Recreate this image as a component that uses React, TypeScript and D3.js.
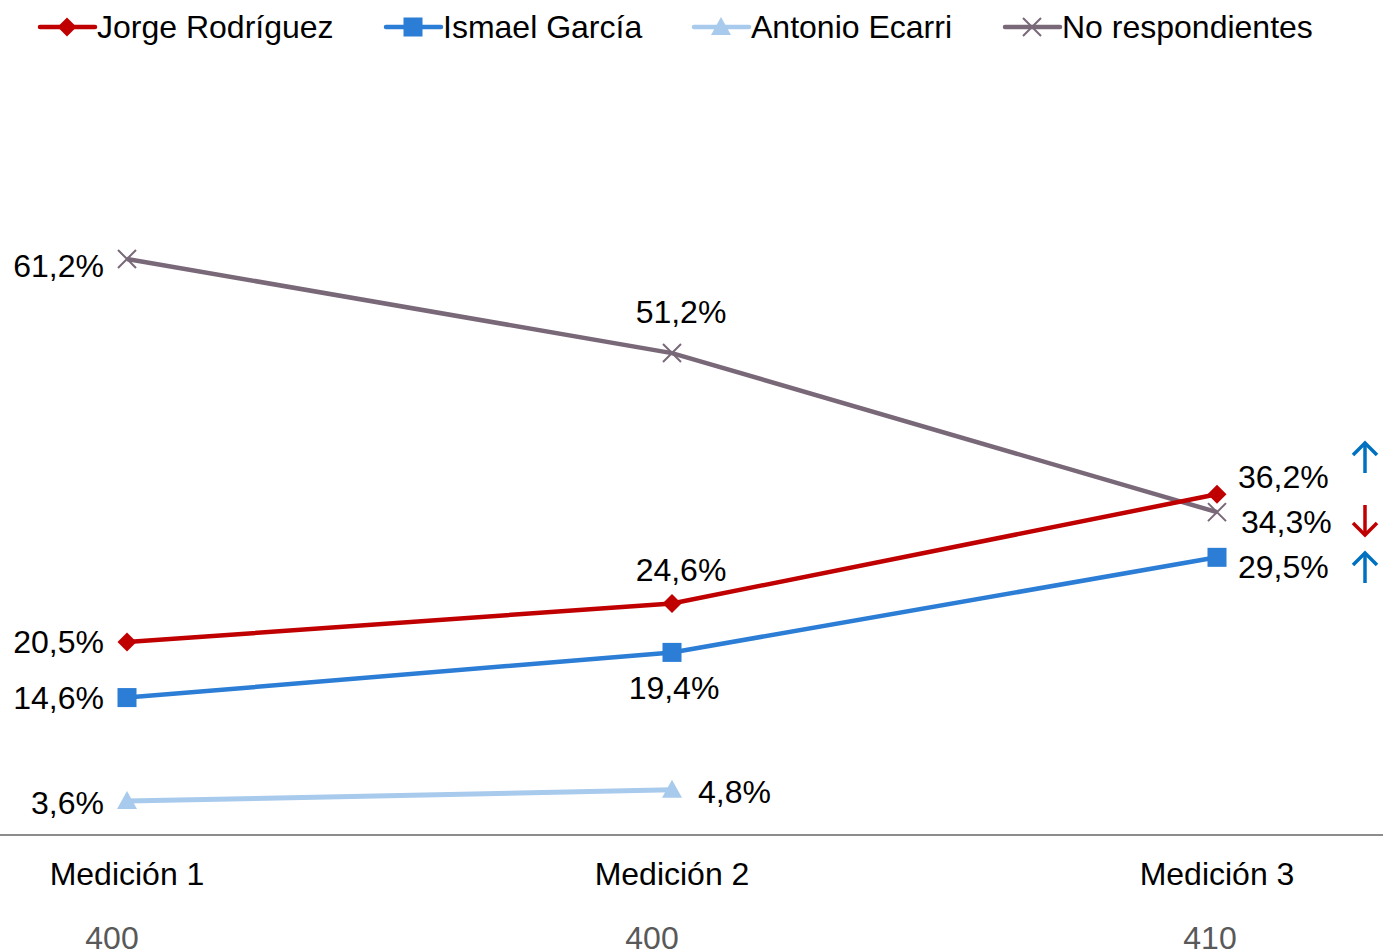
import React from "react";
import * as d3 from "d3";

const categories = ["Medición 1", "Medición 2", "Medición 3"];
const sampleSizes = ["400", "400", "410"];
const seriesNames = ["Jorge Rodríguez", "Ismael García", "Antonio Ecarri", "No respondientes"];
const jorge = [20.5, 24.6, 36.2];
const ismael = [14.6, 19.4, 29.5];
const antonio: (number | null)[] = [3.6, 4.8, null];
const noResp = [61.2, 51.2, 34.3];
const jorgeLabelPos = ["left", "above", "right"];
const ismaelLabelPos = ["left", "below", "right"];
const antonioLabelPos = ["left", "right", "right"];
const noRespLabelPos = ["left", "above", "right"];
const trendArrows = ["up", "down", "up"]; // Jorge, No respondientes, Ismael (top to bottom)

const W = 1383;
const H = 950;
const FONT = "'Liberation Sans', Arial, sans-serif";
const FS = 32;

const colors = ["#C00000", "#2B7DD5", "#A8CAEC", "#786878"];
const markers = ["diamond", "square", "triangle", "x"];

function Marker({ type, x, y, color }: { type: string; x: number; y: number; color: string }) {
  if (type === "diamond") {
    const s = 9.5;
    return <path d={`M${x},${y - s}L${x + s},${y}L${x},${y + s}L${x - s},${y}Z`} fill={color} />;
  }
  if (type === "square") {
    const s = 9.5;
    return <rect x={x - s} y={y - s} width={2 * s} height={2 * s} fill={color} />;
  }
  if (type === "triangle") {
    const s = 10;
    return <path d={`M${x},${y - s}L${x + s},${y + s * 0.8}L${x - s},${y + s * 0.8}Z`} fill={color} />;
  }
  const s = 9;
  return (
    <path
      d={`M${x - s},${y - s}L${x + s},${y + s}M${x + s},${y - s}L${x - s},${y + s}`}
      stroke={color}
      strokeWidth={2}
      fill="none"
    />
  );
}

export default function App() {
  const x = d3.scalePoint<string>().domain(categories).range([127, 1217]);
  const y = d3.scaleLinear().domain([0, 80]).range([835, 82]);
  const series = [
    { name: seriesNames[0], values: jorge as (number | null)[], pos: jorgeLabelPos },
    { name: seriesNames[1], values: ismael as (number | null)[], pos: ismaelLabelPos },
    { name: seriesNames[2], values: antonio, pos: antonioLabelPos },
    { name: seriesNames[3], values: noResp as (number | null)[], pos: noRespLabelPos },
  ];
  const line = d3
    .line<number | null>()
    .defined((d) => d !== null)
    .x((_, i) => x(categories[i])!)
    .y((d) => y(d as number));
  const fmt = (v: number) => v.toFixed(1).replace(".", ",") + "%";

  const legendX = [40, 386, 694, 1005];
  const drawOrder = [3, 2, 1, 0];
  const sampleDx = [-15, -20, -7];

  return (
    <svg
      width={W}
      height={H}
      style={{ position: "absolute", left: 0, top: 0, background: "#fff" }}
      fontFamily={FONT}
    >
      {/* legend */}
      {seriesNames.map((n, i) => (
        <g key={n}>
          <line x1={legendX[i]} x2={legendX[i] + 55} y1={27} y2={27} stroke={colors[i]} strokeWidth={4.5} strokeLinecap="round" />
          <Marker type={markers[i]} x={legendX[i] + 27} y={27} color={colors[i]} />
          <text x={legendX[i] + 57} y={38} fontSize={FS} fill="#000">
            {n}
          </text>
        </g>
      ))}
      {/* axis */}
      <line x1={0} x2={W} y1={y(0)} y2={y(0)} stroke="#8C8C8C" strokeWidth={2} />
      {categories.map((c, i) => (
        <g key={c}>
          <text x={x(c)!} y={885} fontSize={FS} textAnchor="middle" fill="#000">
            {c}
          </text>
          <text x={x(c)! + sampleDx[i]} y={949} fontSize={FS} textAnchor="middle" fill="#595959">
            {sampleSizes[i]}
          </text>
        </g>
      ))}
      {/* lines */}
      {drawOrder.map((si) => {
        const s = series[si];
        return (
          <g key={s.name}>
            <path d={line(s.values) || ""} fill="none" stroke={colors[si]} strokeWidth={si === 2 ? 5 : 4.5} />
            {s.values.map((v, i) =>
              v === null ? null : (
                <Marker key={i} type={markers[si]} x={x(categories[i])!} y={y(v)} color={colors[si]} />
              )
            )}
          </g>
        );
      })}
      {/* labels */}
      {series.map((s, si) =>
        s.values.map((v, i) => {
          if (v === null) return null;
          const px = x(categories[i])!;
          const py = y(v);
          const p = s.pos[i];
          let tx = px,
            ty = py + 11,
            anchor: "start" | "middle" | "end" = "middle";
          if (p === "left") {
            tx = px - 23;
            anchor = "end";
          } else if (p === "right") {
            tx = px + 21;
            anchor = "start";
          } else if (p === "above") {
            tx = px + 9;
            ty = py - 30;
          } else if (p === "below") {
            tx = px + 2;
            ty = py + 47;
          }
          let dy = 0;
          let dx = 0;
          if (si === 0 && i === 2) dy = -17;
          if (si === 0 && i === 1) dy = 8;
          if (si === 3 && i === 2) { dy = 10; dx = 3; }
          if (si === 1 && i === 2) dy = 10;
          if (si === 3 && i === 0) dy = 7;
          if (si === 2 && i === 0) dy = 2;
          if (si === 2 && i === 1) { dy = 2; dx = 5; }
          return (
            <text key={`${si}-${i}`} x={tx + dx} y={ty + dy} fontSize={FS} textAnchor={anchor} fill="#000">
              {fmt(v)}
            </text>
          );
        })
      )}
      {/* trend arrows */}
      {trendArrows.map((dir, i) => {
        const cy = [458, 520, 568][i];
        const col = dir === "up" ? "#0070C0" : "#C00000";
        const ax = 1365;
        const top = cy - 15;
        const bot = cy + 15;
        const head = dir === "up" ? `M${ax - 12},${top + 12}L${ax},${top}L${ax + 12},${top + 12}` : `M${ax - 12},${bot - 12}L${ax},${bot}L${ax + 12},${bot - 12}`;
        return (
          <g key={i} stroke={col} strokeWidth={3.5} fill="none">
            <line x1={ax} x2={ax} y1={top} y2={bot} />
            <path d={head} />
          </g>
        );
      })}
    </svg>
  );
}
